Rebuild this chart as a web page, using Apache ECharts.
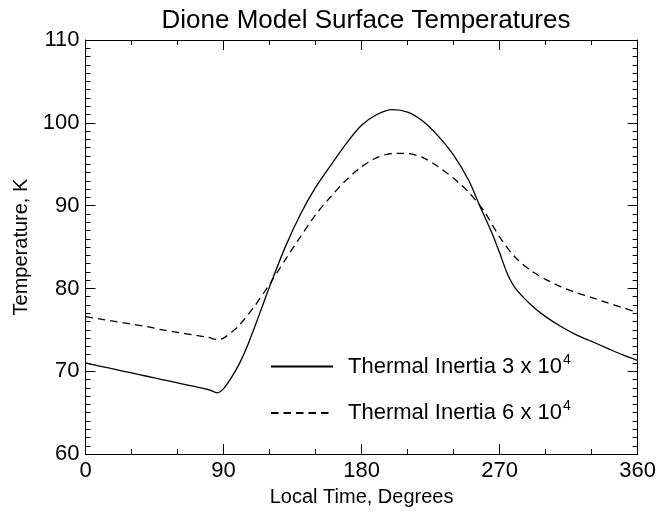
<!DOCTYPE html>
<html>
<head>
<meta charset="utf-8">
<script src="https://cdn.jsdelivr.net/npm/echarts@6/dist/echarts.min.js"></script>
<style>
  html, body { margin: 0; padding: 0; background: #fff; }
  #chart { width: 659px; height: 512px; }
</style>
</head>
<body>
<div id="chart"></div>
<script>
// Local time (degrees) and model surface temperatures (K)
const timeLow = [0, 10, 20, 30, 40, 50, 60, 70, 80, 86, 90, 95, 100, 105, 110, 115, 120, 130, 140, 150, 160, 170, 180, 190, 200, 210, 220, 230, 240, 250, 257, 265, 270, 275, 280, 290, 300, 310, 320, 330, 340, 350, 360];
const tempLow = [71.0, 70.6, 70.2, 69.8, 69.4, 69.0, 68.6, 68.2, 67.8, 67.4, 67.9, 69.2, 70.8, 72.8, 75.2, 77.7, 80.2, 84.9, 88.9, 92.2, 94.9, 97.5, 99.7, 101.0, 101.6, 101.3, 100.2, 98.4, 96.1, 93.0, 90.0, 86.7, 84.3, 81.8, 80.1, 78.1, 76.6, 75.4, 74.4, 73.6, 72.8, 72.0, 71.3];

const timeHigh = [0, 10, 20, 30, 40, 50, 60, 70, 80, 86, 90, 95, 100, 110, 120, 130, 140, 150, 160, 170, 180, 190, 200, 210, 220, 230, 240, 250, 260, 270, 280, 290, 300, 310, 320, 330, 340, 350, 360];
const tempHigh = [76.6, 76.3, 76.0, 75.7, 75.4, 75.0, 74.7, 74.4, 74.1, 73.8, 74.0, 74.7, 75.5, 77.8, 80.5, 83.4, 86.2, 88.9, 91.1, 93.1, 94.7, 95.8, 96.3, 96.3, 95.8, 94.7, 93.3, 91.6, 89.3, 86.2, 83.8, 82.2, 81.1, 80.2, 79.5, 78.9, 78.3, 77.7, 77.1];

const seriesNames = ['Thermal Inertia 3 x 10', 'Thermal Inertia 6 x 10'];
const seriesExp = '4';

const xTicks = { min: 0, max: 360, interval: 90 };
const yTicks = { min: 60, max: 110, interval: 10 };

const FONT = 'Liberation Sans, Arial, Helvetica, sans-serif';

function pairs(xs, ys) {
  return xs.map((x, i) => [x, ys[i]]);
}

const chart = echarts.init(document.getElementById('chart'), null, { renderer: 'canvas' });

const axisLine = { show: true, onZero: false, lineStyle: { color: '#000', width: 1 } };
const axisTick = { show: true, inside: true, length: 10, lineStyle: { color: '#000', width: 1 } };
const minorX = { show: true, splitNumber: 3, length: 5, lineStyle: { color: '#000' } };
const minorY = { show: true, splitNumber: 10, length: 5, lineStyle: { color: '#000' } };

chart.setOption({
  animation: false,
  backgroundColor: '#fff',
  title: {
    text: 'Dione Model Surface Temperatures',
    left: 361, top: 3, textAlign: 'center',
    textStyle: { fontFamily: FONT, fontSize: 26, fontWeight: 'normal', color: '#000' }
  },
  grid: { left: 85.5, right: 21, top: 40, bottom: 55.3 },
  legend: {
    orient: 'vertical',
    left: 270, top: 353, padding: 0,
    itemWidth: 62, itemHeight: 14, itemGap: 21,
    selectedMode: false,
    data: seriesNames,
    itemStyle: { color: 'rgba(0,0,0,0)', borderWidth: 0, opacity: 0 },
    formatter: name => name + '{sup|' + seriesExp + '}',
    textStyle: {
      fontFamily: FONT, fontSize: 22, color: '#000', lineHeight: 24, padding: [0, 0, 0, 10],
      rich: { sup: { fontFamily: FONT, fontSize: 14, color: '#000', padding: [0, 0, 13, 1] } }
    }
  },
  xAxis: [
    {
      type: 'value', position: 'bottom', min: xTicks.min, max: xTicks.max, interval: xTicks.interval,
      axisLine, axisTick, minorTick: minorX, splitLine: { show: false },
      name: 'Local Time, Degrees', nameLocation: 'middle', nameGap: 27,
      nameTextStyle: { fontFamily: FONT, fontSize: 20, color: '#000', verticalAlign: 'top' },
      axisLabel: { fontFamily: FONT, fontSize: 22, color: '#000', margin: 6 }
    },
    {
      type: 'value', position: 'top', min: xTicks.min, max: xTicks.max, interval: xTicks.interval,
      axisLine, axisTick, minorTick: minorX, splitLine: { show: false },
      axisLabel: { show: false }
    }
  ],
  yAxis: [
    {
      type: 'value', position: 'left', min: yTicks.min, max: yTicks.max, interval: yTicks.interval,
      axisLine, axisTick, minorTick: minorY, splitLine: { show: false },
      name: 'Temperature, K', nameLocation: 'middle', nameGap: 51, nameRotate: 90,
      nameTextStyle: { fontFamily: FONT, fontSize: 20, color: '#000' },
      axisLabel: { fontFamily: FONT, fontSize: 22, color: '#000', margin: 6 }
    },
    {
      type: 'value', position: 'right', min: yTicks.min, max: yTicks.max, interval: yTicks.interval,
      axisLine, axisTick, minorTick: minorY, splitLine: { show: false },
      axisLabel: { show: false }
    }
  ],
  series: [
    {
      name: seriesNames[0], type: 'line', xAxisIndex: 0, yAxisIndex: 0,
      data: pairs(timeLow, tempLow), symbol: 'none', smooth: 0.25,
      lineStyle: { color: '#000', width: 1.3, type: 'solid' },
      itemStyle: { color: '#000' }
    },
    {
      name: seriesNames[1], type: 'line', xAxisIndex: 0, yAxisIndex: 0,
      data: pairs(timeHigh, tempHigh), symbol: 'none', smooth: 0.25,
      lineStyle: { color: '#000', width: 1.3, type: [7.5, 5] },
      itemStyle: { color: '#000' }
    }
  ]
});
</script>
</body>
</html>
